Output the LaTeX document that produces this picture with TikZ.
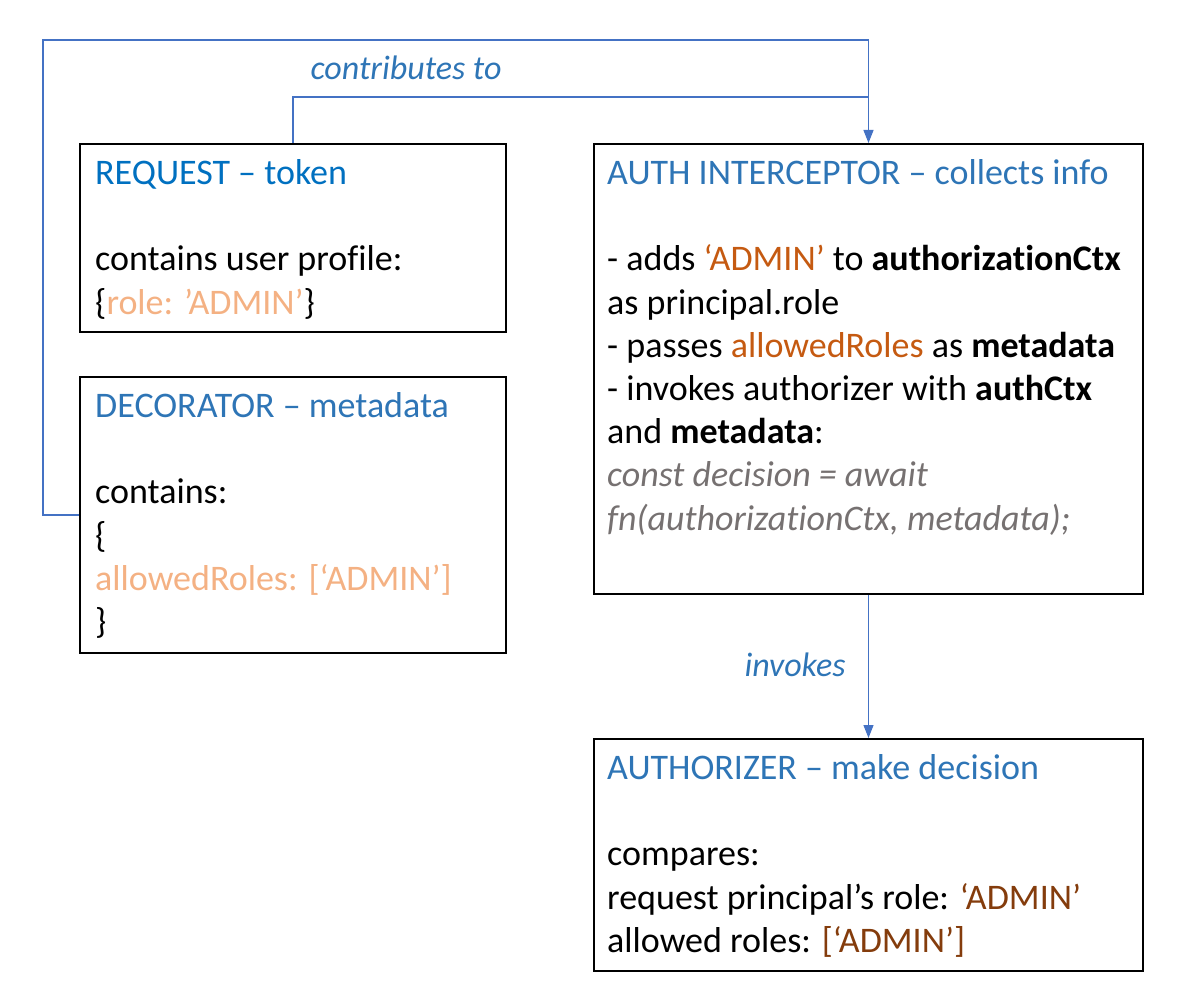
\documentclass[tikz,border=0pt]{standalone}
\usepackage{fontspec}
\setmainfont{Carlito}[Ligatures={NoCommon}]
\usetikzlibrary{arrows.meta}
\definecolor{cReqBlue}{HTML}{0070C0}
\definecolor{cHBlue}{HTML}{2E75B6}
\definecolor{cConn}{HTML}{4472C4}
\definecolor{cPeach}{HTML}{F4B183}
\definecolor{cOrange}{HTML}{C55A11}
\definecolor{cBrown}{HTML}{843C0C}
\definecolor{cGray}{HTML}{767171}
\begin{document}
\begin{tikzpicture}[x=1pt,y=-1pt,
  boxnode/.style={draw=black,line width=2pt,rectangle,inner sep=0pt,anchor=north west},
  txt/.style={inner sep=0pt,anchor=north west,align=left,font=\fontsize{36}{43.2}\selectfont},
  conn/.style={draw=cConn,line width=1.2pt},
  arr/.style={-{Triangle[length=13pt,width=10pt]}},
  lbl/.style={inner sep=0pt,text=cHBlue,font=\fontsize{34}{40}\selectfont\itshape}]
\useasboundingbox (0,0) rectangle (1193,1000);

% boxes
\node[boxnode,minimum width=426pt,minimum height=188pt] (req) at (79,143) {};
\node[boxnode,minimum width=426pt,minimum height=276pt] (dec) at (79,376) {};
\node[boxnode,minimum width=549pt,minimum height=450pt] (auth) at (593,143) {};
\node[boxnode,minimum width=549pt,minimum height=232pt] (authz) at (593,738) {};

% texts
\node[txt] (reqt) at ([xshift=16pt,yshift=-11pt]req.north west) {\strut{\color{cReqBlue}REQUEST – token}\\\mbox{}\\
contains user profile:\\
\{{\color{cPeach}role: ’ADMIN’}\}};

\node[txt] (dect) at ([xshift=16pt,yshift=-11pt]dec.north west) {\strut{\color{cHBlue}DECORATOR – metadata}\\\mbox{}\\
contains:\\
\{\\
{\color{cPeach}allowedRoles: [‘ADMIN’]}\\
\}};

\node[txt] (autht) at ([xshift=14pt,yshift=-11pt]auth.north west) {\strut{\color{cHBlue}AUTH INTERCEPTOR – collects info}\\\mbox{}\\
- adds {\color{cOrange}‘ADMIN’} to \textbf{authorizationCtx}\\
as principal.role\\
- passes {\color{cOrange}allowedRoles} as \textbf{metadata}\\
- invokes authorizer with \textbf{authCtx}\\
and \textbf{metadata}:\\
{\color{cGray}\itshape const decision = await}\\
{\color{cGray}\itshape fn(authorizationCtx, metadata);}};

\node[txt] (authzt) at ([xshift=14pt,yshift=-11pt]authz.north west) {\strut{\color{cHBlue}AUTHORIZER – make decision}\\\mbox{}\\
compares:\\
request principal’s role: {\color{cBrown}‘ADMIN’}\\
allowed roles: {\color{cBrown}[‘ADMIN’]}};

% connectors
\coordinate (tl) at (43,40);
\coordinate (midy) at (0,97);
\draw[conn,arr] (dec.west) -| (tl) -| (auth.north);
\draw[conn] (req.north) |- (midy -| auth.north);
\draw[conn,arr] (auth.south) -- (authz.north);

% labels
\node[lbl] (lcontrib) at (406,68) {contributes to};
\node[lbl] (linvokes) at (795,665) {invokes};
\end{tikzpicture}
\end{document}
